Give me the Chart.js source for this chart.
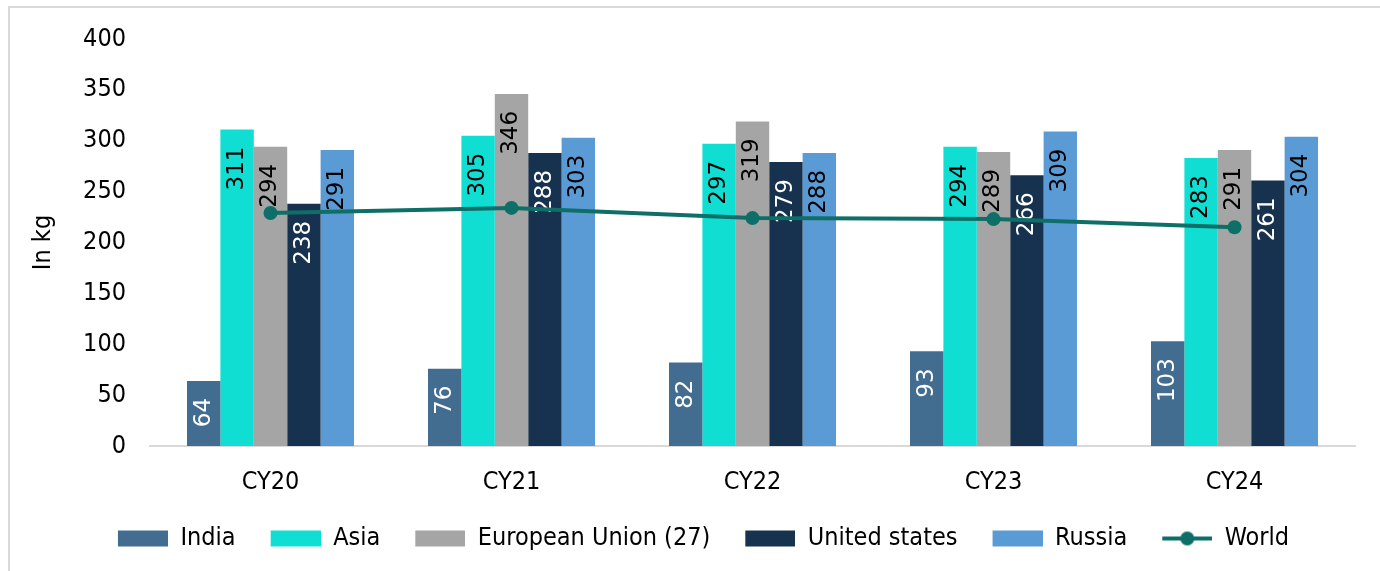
<!DOCTYPE html>
<html lang="en">
<head>
    <meta charset="UTF-8">
    <title>Per capita consumption</title>
    <style>
        * {
            box-sizing          : border-box;
            margin              : 0;
        }
        html, body {
            width               : 1380px;
            height              : 571px;
            background          : #ffffff;
            overflow            : hidden;
        }
        #frame {
            position            : absolute;
            left                : 8px;
            top                 : 6px;
            width               : 1400px;
            height              : 600px;
            border-top          : 2px solid #dadada;
            border-left         : 2px solid #dadada;
        }
        #main {
            position            : absolute;
            left                : 0;
            top                 : 0;
            width               : 1380px;
            height              : 571px;
        }
    </style>
</head>
<body>
    <div id="frame"></div>
    <div id="main">
        <canvas id="chartCanvasId"></canvas>
    </div>

    <script src="https://cdn.jsdelivr.net/npm/chart.js@4.4.1/dist/chart.umd.min.js"></script>
    <script>
        "use strict";

        const years         = ["CY20", "CY21", "CY22", "CY23", "CY24"]
        const india         = [64, 76, 82, 93, 103]
        const asia          = [311, 305, 297, 294, 283]
        const eu            = [294, 346, 319, 289, 291]
        const usa           = [238, 288, 279, 266, 261]
        const russia        = [291, 303, 288, 309, 304]
        const world         = [229, 234, 224, 223, 215]
        const yTicks        = [0, 50, 100, 150, 200, 250, 300, 350, 400]

        const axisFont      = "'DejaVu Sans Condensed', 'Liberation Sans Narrow', sans-serif"
        const worldColor    = '#0e6f68'

        // legend swatches; the blank strip on the left spaces the items apart
        const GAP = 27
        function makeSwatch(color, isLine) {
            const cv = document.createElement('canvas')
            cv.width  = GAP + 50
            cv.height = 18
            const c = cv.getContext('2d')
            c.fillStyle   = color
            c.strokeStyle = color
            if (isLine) {
                c.lineWidth = 4
                c.beginPath()
                c.moveTo(GAP, 9)
                c.lineTo(GAP + 50, 9)
                c.stroke()
                c.beginPath()
                c.arc(GAP + 25, 9, 7, 0, Math.PI * 2)
                c.fill()
            } else {
                c.fillRect(GAP, 1, 50, 16)
            }
            return cv
        }

        function barSet(label, data, color, textColor) {
            return {
                type: 'bar',
                label: label,
                data: data,
                backgroundColor: color,
                borderWidth: 0,
                categoryPercentage: 0.693,
                barPercentage: 1,
                labelColor: textColor,
                order: 1
            }
        }

        // value labels written upward inside the top of each bar
        const barLabels = {
            id: 'barLabels',
            afterDatasetDraw(chart, args) {
                if (args.meta.type !== 'bar') return
                const ds  = chart.data.datasets[args.index]
                const ctx = chart.ctx
                ctx.save()
                ctx.font = "23px 'DejaVu Sans', sans-serif"
                ctx.fillStyle = ds.labelColor
                ctx.textAlign = 'right'
                ctx.textBaseline = 'middle'
                args.meta.data.forEach((bar, i) => {
                    ctx.save()
                    ctx.translate(bar.x, bar.y + 17)
                    ctx.rotate(-Math.PI / 2)
                    ctx.fillText(String(ds.data[i]), 0, 0)
                    ctx.restore()
                })
                ctx.restore()
            }
        }

        const chartContext = document.getElementById('chartCanvasId').getContext('2d')

        const myChart = new Chart(chartContext, {
            data: {
                labels: years,
                datasets: [
                    barSet('India', india, '#426d91', '#ffffff'),
                    barSet('Asia', asia, '#10ded3', '#000000'),
                    barSet('European Union (27)', eu, '#a5a5a5', '#000000'),
                    barSet('United states', usa, '#17324e', '#ffffff'),
                    barSet('Russia', russia, '#5b9bd5', '#000000'),
                    {
                        type: 'line',
                        label: 'World',
                        data: world,
                        borderColor: worldColor,
                        backgroundColor: worldColor,
                        borderWidth: 4,
                        tension: 0,
                        pointRadius: 7,
                        pointHoverRadius: 7,
                        pointBackgroundColor: worldColor,
                        pointBorderWidth: 0,
                        order: 0
                    }
                ]
            },
            plugins: [barLabels],
            options: {
                responsive: true,
                maintainAspectRatio: false,
                animation: false,
                events: [],
                layout: {
                    padding: { top: 36, left: 25, right: 25, bottom: 10 }
                },
                scales: {
                    x: {
                        grid: { display: false, drawTicks: false },
                        border: { display: true, color: '#d9d9d9', width: 2 },
                        ticks: {
                            padding: 21,
                            color: '#000000',
                            font: { family: axisFont, size: 25 }
                        }
                    },
                    y: {
                        min: 0,
                        max: 400,
                        afterBuildTicks: s => { s.ticks = yTicks.map(v => ({ value: v })) },
                        afterFit: s => { s.width = 125 },
                        grid: { display: false, drawTicks: false },
                        border: { display: false },
                        ticks: {
                            padding: 24,
                            color: '#000000',
                            font: { family: axisFont, size: 25 }
                        },
                        title: {
                            display: true,
                            text: 'In kg',
                            color: '#000000',
                            padding: { top: 3, bottom: 0 },
                            font: { family: axisFont, size: 25 }
                        }
                    }
                },
                plugins: {
                    tooltip: { enabled: false },
                    legend: {
                        position: 'bottom',
                        labels: {
                            usePointStyle: true,
                            pointStyleWidth: GAP + 50,
                            boxHeight: 18,
                            padding: 8,
                            color: '#000000',
                            font: { family: axisFont, size: 25 },
                            generateLabels: chart => chart.data.datasets.map((ds, i) => ({
                                text: ds.label,
                                fillStyle: ds.backgroundColor,
                                strokeStyle: ds.backgroundColor,
                                lineWidth: 0,
                                pointStyle: makeSwatch(ds.backgroundColor, ds.type === 'line'),
                                fontColor: '#000000',
                                datasetIndex: i,
                                hidden: false
                            }))
                        }
                    }
                }
            }
        })
    </script>
</body>
</html>
